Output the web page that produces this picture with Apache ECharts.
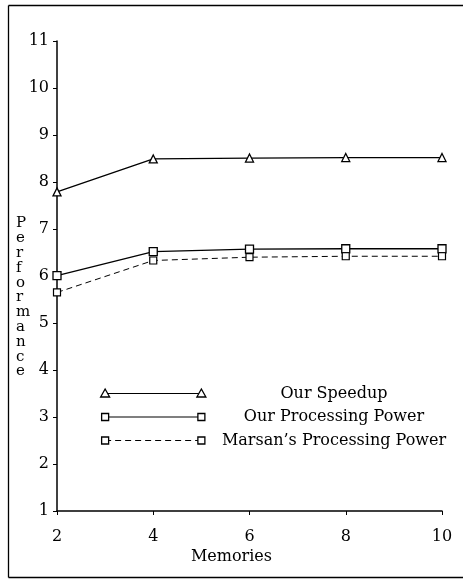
<!DOCTYPE html>
<html>
<head>
<meta charset="utf-8">
<script src="https://cdn.jsdelivr.net/npm/echarts@6/dist/echarts.min.js"></script>
<style>
  html, body { margin: 0; padding: 0; background: #fff; }
  #chart { width: 463px; height: 580px; }
</style>
</head>
<body>
<div id="chart"></div>
<script>
// 横轴：存储器数量
var memories = [2, 4, 6, 8, 10];
// 三条曲线的数据
var ourSpeedup = [7.79, 8.49, 8.51, 8.52, 8.52];
var ourPower = [6.01, 6.52, 6.57, 6.58, 6.58];
var marsanPower = [5.65, 6.33, 6.40, 6.42, 6.42];
var seriesNames = ['Our Speedup', 'Our Processing Power', "Marsan\u2019s Processing Power"];
// 图例线段所在的纵坐标（数据坐标）
var legendRows = [3.5, 3.0, 2.5];

var FONT = 'DejaVu Serif';

function pairs(vals) {
  return memories.map(function (m, i) { return [m, vals[i]]; });
}

var chartDom = document.getElementById('chart');
var myChart = echarts.init(chartDom);

var option = {
  animation: false,
  backgroundColor: '#fff',
  grid: { left: 57, right: 21, top: 41, bottom: 69 },
  xAxis: {
    type: 'value',
    min: 2, max: 10, interval: 2,
    axisLine: { lineStyle: { color: '#000', width: 1.5 } },
    axisTick: { length: 4, lineStyle: { color: '#000' } },
    axisLabel: { color: '#000', fontFamily: FONT, fontSize: 16, margin: 18 },
    splitLine: { show: false }
  },
  yAxis: {
    type: 'value',
    min: 1, max: 11, interval: 1,
    axisLine: { show: true, lineStyle: { color: '#000', width: 1.5 } },
    axisTick: { show: true, length: 4, lineStyle: { color: '#000' } },
    axisLabel: { color: '#000', fontFamily: FONT, fontSize: 16, margin: 8 },
    splitLine: { show: false }
  },
  series: [
    {
      name: seriesNames[0], type: 'line', data: pairs(ourSpeedup),
      symbol: 'triangle', symbolSize: 8,
      lineStyle: { color: '#000', width: 1.3 },
      itemStyle: { color: '#fff', borderColor: '#000', borderWidth: 1.3 }
    },
    {
      name: seriesNames[1], type: 'line', data: pairs(ourPower),
      symbol: 'rect', symbolSize: 8,
      lineStyle: { color: '#000', width: 1.3 },
      itemStyle: { color: '#fff', borderColor: '#000', borderWidth: 1.3 }
    },
    {
      name: seriesNames[2], type: 'line', data: pairs(marsanPower),
      symbol: 'rect', symbolSize: 7,
      lineStyle: { color: '#000', width: 1, type: [6, 4] },
      itemStyle: { color: '#fff', borderColor: '#000', borderWidth: 1.2 }
    }
  ]
};
myChart.setOption(option);

// 外框（左、上、下三条边）、坐标轴名称和手绘图例
var frame = { stroke: '#000', lineWidth: 1.3 };
var graphics = [
  { type: 'line', silent: true, shape: { x1: 8.5, y1: 5.5, x2: 8.5, y2: 577.5 }, style: frame },
  { type: 'line', silent: true, shape: { x1: 8.5, y1: 5.5, x2: 463, y2: 5.5 }, style: frame },
  { type: 'line', silent: true, shape: { x1: 8.5, y1: 577.5, x2: 463, y2: 577.5 }, style: frame },
  {
    type: 'text', left: 'center', top: 549, silent: true,
    x: -18,
    style: { text: 'Memories', font: '16px ' + FONT, fill: '#000' }
  },
  {
    type: 'text', left: 16, top: 216, silent: true,
    style: {
      text: 'Performance'.split('').join('\n'),
      font: '15px ' + FONT, fill: '#000', lineHeight: 14.8, align: 'center'
    }
  }
];

var lineStyles = [
  { symbol: 'tri', dash: null },
  { symbol: 'sq', dash: null },
  { symbol: 'sq', dash: [6, 4] }
];
legendRows.forEach(function (v, i) {
  var p1 = myChart.convertToPixel({ gridIndex: 0 }, [3, v]);
  var p2 = myChart.convertToPixel({ gridIndex: 0 }, [5, v]);
  graphics.push({
    type: 'line', silent: true,
    shape: { x1: p1[0], y1: p1[1], x2: p2[0], y2: p2[1] },
    style: { stroke: '#000', lineWidth: 1.2, lineDash: lineStyles[i].dash }
  });
  [p1, p2].forEach(function (p) {
    if (lineStyles[i].symbol === 'tri') {
      graphics.push({
        type: 'polygon', silent: true,
        shape: { points: [[p[0], p[1] - 4.5], [p[0] - 4.5, p[1] + 3.5], [p[0] + 4.5, p[1] + 3.5]] },
        style: { fill: '#fff', stroke: '#000', lineWidth: 1.3 }
      });
    } else {
      graphics.push({
        type: 'rect', silent: true,
        shape: { x: p[0] - 3.5, y: p[1] - 3.5, width: 7, height: 7 },
        style: { fill: '#fff', stroke: '#000', lineWidth: 1.3 }
      });
    }
  });
  graphics.push({
    type: 'text', silent: true,
    x: 334, y: p1[1],
    style: {
      text: seriesNames[i], font: '16px ' + FONT, fill: '#000',
      align: 'center', verticalAlign: 'middle'
    }
  });
});

myChart.setOption({ graphic: graphics });
</script>
</body>
</html>
